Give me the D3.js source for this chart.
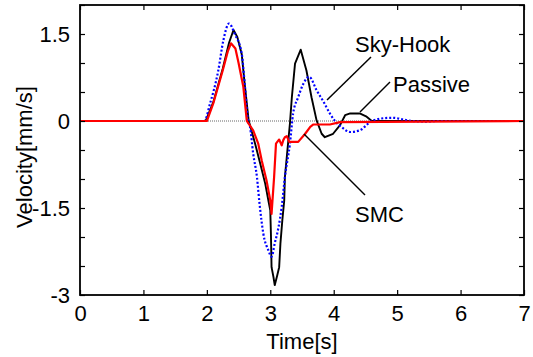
<!DOCTYPE html>
<html><head><meta charset="utf-8">
<script src="https://cdn.jsdelivr.net/npm/d3@7"></script>
<style>
html,body{margin:0;padding:0;background:#fff;}
text{font-family:"Liberation Sans",Arial,sans-serif;}
</style></head>
<body><svg id="c" width="533" height="357"></svg>
<script>
// ---- data ----
const xTicks = [0,1,2,3,4,5,6,7];
const yTicks = [-3,-2.5,-2,-1.5,-1,-0.5,0,0.5,1,1.5,2];
const yLabels = [1.5,0,-1.5,-3];

const skyT = [0,1.98,2.1,2.25,2.35,2.42,2.48,2.55,2.6,2.66,2.68,2.76,2.84,2.92,2.97,3.0,3.01,3.02,3.05,3.07,3.11,3.14,3.16,3.19,3.22,3.23,3.28,3.31,3.34,3.39,3.48,3.57,3.65,3.73,3.81,3.86,3.99,4.1,4.18,4.26,4.41,4.51,4.6,4.9,7];
const skyV = [0,0,0.32,0.9,1.35,1.57,1.45,1.15,0.6,0,-0.07,-0.39,-0.73,-1.08,-1.37,-1.54,-1.94,-2.52,-2.69,-2.83,-2.66,-2.52,-2.11,-1.71,-1.37,-0.97,-0.39,-0.04,0.41,0.99,1.23,0.87,0.41,0.01,-0.22,-0.28,-0.22,-0.07,0.1,0.13,0.13,0.08,0,0,0];

const pasT = [0,1.96,2.05,2.18,2.26,2.35,2.44,2.55,2.6,2.65,2.68,2.73,2.79,2.83,2.89,2.97,3.02,3.07,3.13,3.18,3.23,3.31,3.36,3.44,3.52,3.615,3.73,3.84,3.94,4.02,4.13,4.26,4.41,4.6,4.81,4.93,5.12,5.23,5.44,5.63,7];
const pasV = [0,0,0.3,0.87,1.39,1.68,1.5,1.16,0.6,0,-0.1,-0.56,-0.97,-1.42,-1.94,-2.23,-2.34,-2.11,-1.83,-1.48,-0.97,-0.39,0.13,0.41,0.64,0.76,0.53,0.33,0.13,0,-0.11,-0.19,-0.16,0,0.05,0.055,0.02,0,-0.01,0,0];

const smcT = [0,2.0,2.1,2.25,2.33,2.38,2.45,2.5,2.575,2.63,2.73,2.81,2.865,2.94,3.0,3.02,3.06,3.09,3.11,3.14,3.18,3.205,3.23,3.26,3.3,3.44,3.55,3.63,3.68,3.94,4.1,7];
const smcV = [0,0,0.3,0.87,1.2,1.34,1.25,1.0,0.59,0,-0.16,-0.39,-0.68,-1.02,-1.37,-1.6,-0.97,-0.39,-0.36,-0.32,-0.42,-0.33,-0.28,-0.26,-0.36,-0.36,-0.22,-0.1,-0.06,-0.06,-0.02,0];

const labels = ["Sky-Hook","Passive","SMC"];

// ---- drawing ----
const svg = d3.select("#c");
const L=80,R=524,T=5,B=295;
const x = d3.scaleLinear().domain([0,7]).range([L,R]);
const y = d3.scaleLinear().domain([-3,2]).range([B,T]);
const FS = 22;

// zero reference line
svg.append("line").attr("x1",x(0)).attr("x2",x(7)).attr("y1",y(0)).attr("y2",y(0))
  .attr("stroke","#666").attr("stroke-width",1).attr("stroke-dasharray","1,1");

function series(ts,vs){return ts.map((t,i)=>[t,vs[i]]);}
const lineLin = d3.line().x(d=>x(d[0])).y(d=>y(d[1]));
const lineSm = d3.line().x(d=>x(d[0])).y(d=>y(d[1])).curve(d3.curveMonotoneX);

svg.append("path").datum(series(skyT,skyV)).attr("d",lineLin)
  .attr("fill","none").attr("stroke","#000").attr("stroke-width",1.9).attr("stroke-linejoin","round");
svg.append("path").datum(series(pasT,pasV)).attr("d",lineSm)
  .attr("fill","none").attr("stroke","#0000ff").attr("stroke-width",2.2).attr("stroke-dasharray","2,2");
svg.append("path").datum(series(smcT,smcV)).attr("d",lineLin)
  .attr("fill","none").attr("stroke","#ff0000").attr("stroke-width",2.2).attr("stroke-linejoin","round");

// axes
const fmt = d=> yLabels.includes(d) ? String(d) : "";
const gx = svg.append("g").attr("transform",`translate(0,${B})`)
  .call(d3.axisBottom(x).tickValues(xTicks).tickSize(-5).tickPadding(10).tickFormat(d3.format("d")));
const gxt = svg.append("g").attr("transform",`translate(0,${T})`)
  .call(d3.axisTop(x).tickValues(xTicks).tickSize(-5).tickFormat(""));
const gy = svg.append("g").attr("transform",`translate(${L},0)`)
  .call(d3.axisLeft(y).tickValues(yTicks).tickSize(-5).tickPadding(10).tickFormat(fmt));
const gyr = svg.append("g").attr("transform",`translate(${R},0)`)
  .call(d3.axisRight(y).tickValues(yTicks).tickSize(-5).tickFormat(""));
[gx,gxt,gy,gyr].forEach(g=>{
  g.select(".domain").remove();
  g.selectAll("line").attr("stroke","#000").attr("stroke-width",1.2);
  g.selectAll("text").attr("font-family","Liberation Sans, Arial, sans-serif").attr("font-size",FS).attr("fill","#000");
});
gy.selectAll("text").attr("dy","0.36em");

// frame
svg.append("rect").attr("x",L).attr("y",T).attr("width",R-L).attr("height",B-T)
  .attr("fill","none").attr("stroke","#000").attr("stroke-width",1.8);

// axis titles
svg.append("text").attr("x",(L+R)/2).attr("y",349).attr("text-anchor","middle")
  .attr("font-size",FS).text("Time[s]");
svg.append("text").attr("transform","translate(32,157) rotate(-90)").attr("text-anchor","middle")
  .attr("font-size",FS).text("Velocity[mm/s]");

// annotations
const ann = [
  {lab:labels[0], tx:355, ty:52, x1:371, y1:57, x2:327, y2:100},
  {lab:labels[1], tx:393, ty:92, x1:390, y1:82, x2:360, y2:112},
  {lab:labels[2], tx:355, ty:222, x1:365, y1:195, x2:304, y2:134}
];
ann.forEach(a=>{
  svg.append("line").attr("x1",a.x1).attr("y1",a.y1).attr("x2",a.x2).attr("y2",a.y2)
    .attr("stroke","#000").attr("stroke-width",1.5);
  svg.append("text").attr("x",a.tx).attr("y",a.ty).attr("font-size",FS).text(a.lab);
});
</script></body></html>
